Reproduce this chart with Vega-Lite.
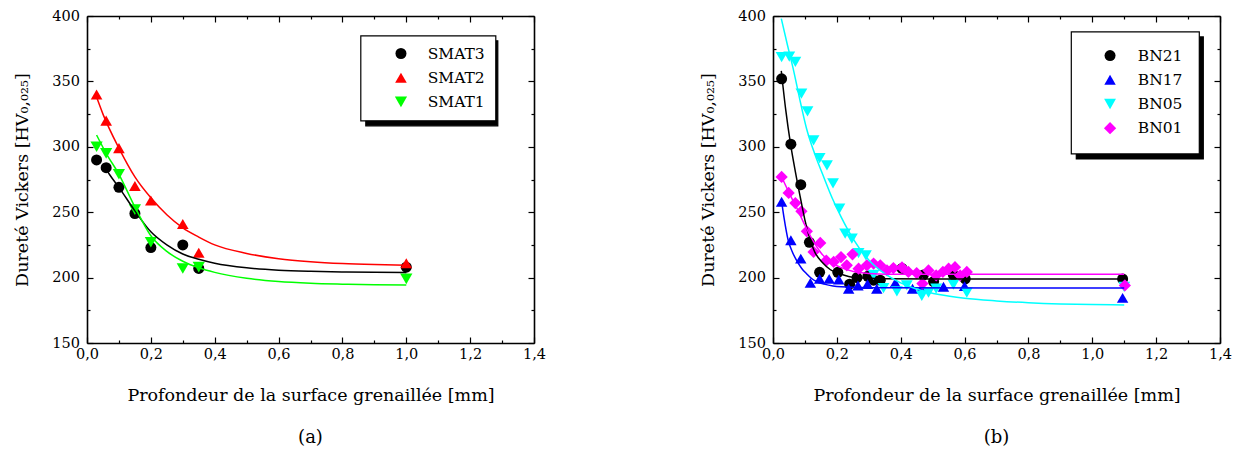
{
  "$schema": "https://vega.github.io/schema/vega-lite/v6.json",
  "background": "white",
  "padding": {"left": 13, "top": 8, "right": 0, "bottom": 0},
  "config": {
    "view": {"stroke": null},
    "font": "DejaVu Serif",
    "axis": {
      "labelFont": "DejaVu Serif", "titleFont": "DejaVu Serif",
      "labelFontSize": 14.5, "titleFontSize": 17.5,
      "labelColor": "black", "titleColor": "black", "titleFontWeight": "normal",
      "domainColor": "black", "domainWidth": 1.6,
      "tickColor": "black", "tickWidth": 1.2, "grid": false,
      "labelFlush": false, "labelOverlap": false
    },
    "legend": {
      "labelFont": "DejaVu Serif", "labelFontSize": 15.5, "labelColor": "black",
      "strokeColor": "black", "fillColor": "white", "strokeWidth": 1.2,
      "symbolSize": 144, "symbolStrokeWidth": 0, "clipHeight": 16, "rowPadding": 7.2
    },
    "title": {"font": "DejaVu Serif", "fontSize": 18, "fontWeight": "normal", "color": "black"}
  },
  "datasets": {
    "pointsA": [
      {"series": "SMAT3", "x": 0.03, "y": 290}, {"series": "SMAT3", "x": 0.06, "y": 284}, {"series": "SMAT3", "x": 0.1, "y": 269}, {"series": "SMAT3", "x": 0.15, "y": 249}, {"series": "SMAT3", "x": 0.2, "y": 223}, {"series": "SMAT3", "x": 0.3, "y": 225}, {"series": "SMAT3", "x": 0.35, "y": 207}, {"series": "SMAT3", "x": 1.0, "y": 208},
      {"series": "SMAT2", "x": 0.03, "y": 340}, {"series": "SMAT2", "x": 0.06, "y": 320}, {"series": "SMAT2", "x": 0.1, "y": 299}, {"series": "SMAT2", "x": 0.15, "y": 270}, {"series": "SMAT2", "x": 0.2, "y": 259}, {"series": "SMAT2", "x": 0.3, "y": 241}, {"series": "SMAT2", "x": 0.35, "y": 219}, {"series": "SMAT2", "x": 1.0, "y": 211},
      {"series": "SMAT1", "x": 0.03, "y": 300}, {"series": "SMAT1", "x": 0.06, "y": 295}, {"series": "SMAT1", "x": 0.1, "y": 279}, {"series": "SMAT1", "x": 0.15, "y": 252}, {"series": "SMAT1", "x": 0.2, "y": 227}, {"series": "SMAT1", "x": 0.3, "y": 207}, {"series": "SMAT1", "x": 0.35, "y": 208}, {"series": "SMAT1", "x": 1.0, "y": 199}
    ],
    "curveA": [
      {"series": "SMAT3", "x": 0.05, "y": 287}, {"series": "SMAT3", "x": 0.07, "y": 279}, {"series": "SMAT3", "x": 0.1, "y": 269}, {"series": "SMAT3", "x": 0.15, "y": 251}, {"series": "SMAT3", "x": 0.2, "y": 235}, {"series": "SMAT3", "x": 0.25, "y": 225}, {"series": "SMAT3", "x": 0.3, "y": 218}, {"series": "SMAT3", "x": 0.35, "y": 214}, {"series": "SMAT3", "x": 0.4, "y": 211}, {"series": "SMAT3", "x": 0.5, "y": 207.5}, {"series": "SMAT3", "x": 0.6, "y": 205.7}, {"series": "SMAT3", "x": 0.7, "y": 204.8}, {"series": "SMAT3", "x": 0.8, "y": 204.3}, {"series": "SMAT3", "x": 0.9, "y": 204}, {"series": "SMAT3", "x": 1.0, "y": 203.8},
      {"series": "SMAT2", "x": 0.03, "y": 338}, {"series": "SMAT2", "x": 0.05, "y": 325}, {"series": "SMAT2", "x": 0.1, "y": 299}, {"series": "SMAT2", "x": 0.15, "y": 277}, {"series": "SMAT2", "x": 0.2, "y": 261}, {"series": "SMAT2", "x": 0.25, "y": 248}, {"series": "SMAT2", "x": 0.3, "y": 238}, {"series": "SMAT2", "x": 0.35, "y": 231}, {"series": "SMAT2", "x": 0.4, "y": 225}, {"series": "SMAT2", "x": 0.5, "y": 218.5}, {"series": "SMAT2", "x": 0.6, "y": 214.5}, {"series": "SMAT2", "x": 0.7, "y": 212.2}, {"series": "SMAT2", "x": 0.8, "y": 210.8}, {"series": "SMAT2", "x": 0.9, "y": 210}, {"series": "SMAT2", "x": 1.0, "y": 209.5},
      {"series": "SMAT1", "x": 0.03, "y": 309}, {"series": "SMAT1", "x": 0.06, "y": 295}, {"series": "SMAT1", "x": 0.1, "y": 279}, {"series": "SMAT1", "x": 0.15, "y": 254}, {"series": "SMAT1", "x": 0.2, "y": 232}, {"series": "SMAT1", "x": 0.25, "y": 220}, {"series": "SMAT1", "x": 0.3, "y": 212.5}, {"series": "SMAT1", "x": 0.35, "y": 207.5}, {"series": "SMAT1", "x": 0.4, "y": 204}, {"series": "SMAT1", "x": 0.5, "y": 199.5}, {"series": "SMAT1", "x": 0.6, "y": 197}, {"series": "SMAT1", "x": 0.7, "y": 195.7}, {"series": "SMAT1", "x": 0.8, "y": 195}, {"series": "SMAT1", "x": 0.9, "y": 194.5}, {"series": "SMAT1", "x": 1.0, "y": 194.3}
    ],
    "pointsB": [
      {"series": "BN21", "x": 0.027, "y": 352}, {"series": "BN21", "x": 0.056, "y": 302}, {"series": "BN21", "x": 0.087, "y": 271}, {"series": "BN21", "x": 0.114, "y": 227}, {"series": "BN21", "x": 0.146, "y": 204}, {"series": "BN21", "x": 0.203, "y": 204}, {"series": "BN21", "x": 0.24, "y": 195}, {"series": "BN21", "x": 0.263, "y": 200}, {"series": "BN21", "x": 0.297, "y": 201}, {"series": "BN21", "x": 0.315, "y": 198}, {"series": "BN21", "x": 0.336, "y": 198}, {"series": "BN21", "x": 0.404, "y": 207}, {"series": "BN21", "x": 0.471, "y": 202}, {"series": "BN21", "x": 0.503, "y": 197}, {"series": "BN21", "x": 0.565, "y": 202}, {"series": "BN21", "x": 0.602, "y": 199}, {"series": "BN21", "x": 1.095, "y": 199},
      {"series": "BN17", "x": 0.027, "y": 258}, {"series": "BN17", "x": 0.056, "y": 228.5}, {"series": "BN17", "x": 0.087, "y": 214.5}, {"series": "BN17", "x": 0.117, "y": 196}, {"series": "BN17", "x": 0.146, "y": 199}, {"series": "BN17", "x": 0.176, "y": 199}, {"series": "BN17", "x": 0.206, "y": 198.6}, {"series": "BN17", "x": 0.237, "y": 191.5}, {"series": "BN17", "x": 0.266, "y": 194}, {"series": "BN17", "x": 0.296, "y": 195}, {"series": "BN17", "x": 0.325, "y": 191.5}, {"series": "BN17", "x": 0.383, "y": 196}, {"series": "BN17", "x": 0.437, "y": 191.5}, {"series": "BN17", "x": 0.466, "y": 192}, {"series": "BN17", "x": 0.534, "y": 193}, {"series": "BN17", "x": 0.6, "y": 193.5}, {"series": "BN17", "x": 1.095, "y": 184.5},
      {"series": "BN05", "x": 0.027, "y": 368.5}, {"series": "BN05", "x": 0.051, "y": 369}, {"series": "BN05", "x": 0.07, "y": 365}, {"series": "BN05", "x": 0.089, "y": 340.6}, {"series": "BN05", "x": 0.108, "y": 327}, {"series": "BN05", "x": 0.127, "y": 305}, {"series": "BN05", "x": 0.146, "y": 291.4}, {"series": "BN05", "x": 0.169, "y": 285.8}, {"series": "BN05", "x": 0.188, "y": 272}, {"series": "BN05", "x": 0.208, "y": 252.7}, {"series": "BN05", "x": 0.226, "y": 233.6}, {"series": "BN05", "x": 0.247, "y": 229.8}, {"series": "BN05", "x": 0.268, "y": 218.8}, {"series": "BN05", "x": 0.291, "y": 217}, {"series": "BN05", "x": 0.315, "y": 202}, {"series": "BN05", "x": 0.346, "y": 192}, {"series": "BN05", "x": 0.388, "y": 189.5}, {"series": "BN05", "x": 0.419, "y": 194}, {"series": "BN05", "x": 0.466, "y": 186}, {"series": "BN05", "x": 0.487, "y": 188.5}, {"series": "BN05", "x": 0.511, "y": 191.5}, {"series": "BN05", "x": 0.565, "y": 194.6}, {"series": "BN05", "x": 0.607, "y": 188.5}, {"series": "BN05", "x": 1.1, "y": 193},
      {"series": "BN01", "x": 0.027, "y": 277}, {"series": "BN01", "x": 0.049, "y": 264.7}, {"series": "BN01", "x": 0.07, "y": 257}, {"series": "BN01", "x": 0.089, "y": 250.7}, {"series": "BN01", "x": 0.106, "y": 235.4}, {"series": "BN01", "x": 0.127, "y": 219.6}, {"series": "BN01", "x": 0.148, "y": 226.5}, {"series": "BN01", "x": 0.167, "y": 213}, {"series": "BN01", "x": 0.19, "y": 212}, {"series": "BN01", "x": 0.213, "y": 215.7}, {"series": "BN01", "x": 0.231, "y": 209.4}, {"series": "BN01", "x": 0.249, "y": 217.8}, {"series": "BN01", "x": 0.268, "y": 206.8}, {"series": "BN01", "x": 0.294, "y": 209.4}, {"series": "BN01", "x": 0.315, "y": 210.7}, {"series": "BN01", "x": 0.336, "y": 209.4}, {"series": "BN01", "x": 0.357, "y": 205.5}, {"series": "BN01", "x": 0.377, "y": 207.3}, {"series": "BN01", "x": 0.404, "y": 207.8}, {"series": "BN01", "x": 0.424, "y": 204.3}, {"series": "BN01", "x": 0.45, "y": 203.5}, {"series": "BN01", "x": 0.468, "y": 195.4}, {"series": "BN01", "x": 0.487, "y": 205.5}, {"series": "BN01", "x": 0.511, "y": 201.7}, {"series": "BN01", "x": 0.532, "y": 204.3}, {"series": "BN01", "x": 0.55, "y": 206.8}, {"series": "BN01", "x": 0.57, "y": 208}, {"series": "BN01", "x": 0.586, "y": 201.7}, {"series": "BN01", "x": 0.607, "y": 204.3}, {"series": "BN01", "x": 1.102, "y": 194}
    ],
    "curveB": [
      {"series": "BN21", "x": 0.026, "y": 358}, {"series": "BN21", "x": 0.04, "y": 328}, {"series": "BN21", "x": 0.055, "y": 302}, {"series": "BN21", "x": 0.07, "y": 281}, {"series": "BN21", "x": 0.085, "y": 262}, {"series": "BN21", "x": 0.1, "y": 244}, {"series": "BN21", "x": 0.115, "y": 230}, {"series": "BN21", "x": 0.13, "y": 220}, {"series": "BN21", "x": 0.157, "y": 211}, {"series": "BN21", "x": 0.18, "y": 206}, {"series": "BN21", "x": 0.209, "y": 203}, {"series": "BN21", "x": 0.26, "y": 200}, {"series": "BN21", "x": 0.35, "y": 199.2}, {"series": "BN21", "x": 0.5, "y": 199}, {"series": "BN21", "x": 1.1, "y": 199},
      {"series": "BN17", "x": 0.026, "y": 260}, {"series": "BN17", "x": 0.035, "y": 245}, {"series": "BN17", "x": 0.047, "y": 229}, {"series": "BN17", "x": 0.06, "y": 220}, {"series": "BN17", "x": 0.073, "y": 213.5}, {"series": "BN17", "x": 0.09, "y": 207}, {"series": "BN17", "x": 0.105, "y": 203}, {"series": "BN17", "x": 0.12, "y": 199.5}, {"series": "BN17", "x": 0.136, "y": 197}, {"series": "BN17", "x": 0.16, "y": 195}, {"series": "BN17", "x": 0.188, "y": 193.6}, {"series": "BN17", "x": 0.25, "y": 192.6}, {"series": "BN17", "x": 0.35, "y": 192.2}, {"series": "BN17", "x": 1.1, "y": 192.1},
      {"series": "BN05", "x": 0.026, "y": 398}, {"series": "BN05", "x": 0.045, "y": 378}, {"series": "BN05", "x": 0.063, "y": 360}, {"series": "BN05", "x": 0.085, "y": 335}, {"series": "BN05", "x": 0.105, "y": 314}, {"series": "BN05", "x": 0.13, "y": 295}, {"series": "BN05", "x": 0.157, "y": 278}, {"series": "BN05", "x": 0.185, "y": 261}, {"series": "BN05", "x": 0.214, "y": 246}, {"series": "BN05", "x": 0.25, "y": 230}, {"series": "BN05", "x": 0.3, "y": 213.5}, {"series": "BN05", "x": 0.35, "y": 203}, {"series": "BN05", "x": 0.4, "y": 196}, {"series": "BN05", "x": 0.46, "y": 190.5}, {"series": "BN05", "x": 0.52, "y": 187}, {"series": "BN05", "x": 0.6, "y": 184.2}, {"series": "BN05", "x": 0.7, "y": 182.2}, {"series": "BN05", "x": 0.8, "y": 180.8}, {"series": "BN05", "x": 0.9, "y": 179.9}, {"series": "BN05", "x": 1.0, "y": 179.4}, {"series": "BN05", "x": 1.1, "y": 179.1},
      {"series": "BN01", "x": 0.027, "y": 277}, {"series": "BN01", "x": 0.05, "y": 265}, {"series": "BN01", "x": 0.075, "y": 253}, {"series": "BN01", "x": 0.1, "y": 240}, {"series": "BN01", "x": 0.127, "y": 227.5}, {"series": "BN01", "x": 0.15, "y": 219}, {"series": "BN01", "x": 0.179, "y": 212}, {"series": "BN01", "x": 0.21, "y": 208}, {"series": "BN01", "x": 0.252, "y": 204.6}, {"series": "BN01", "x": 0.3, "y": 203.1}, {"series": "BN01", "x": 0.357, "y": 202.6}, {"series": "BN01", "x": 1.1, "y": 202.5}
    ]
  },
  "spacing": 153,
  "hconcat": [
    {
      "width": 447, "height": 327,
      "title": {"text": "(a)", "orient": "bottom", "offset": 25},
      "layer": [
        {
          "data": {"name": "pointsA"},
          "mark": {"type": "point", "filled": true, "opacity": 1},
          "encoding": {
            "x": {"field": "x", "type": "quantitative", "scale": {"domain": [0, 1.4], "nice": false, "zero": false},
              "axis": {"orient": "bottom", "values": [0, 0.2, 0.4, 0.6, 0.8, 1.0, 1.2, 1.4],
                "labelExpr": "replace(format(datum.value,'.1f'),'.',',')",
                "tickSize": -6, "labelPadding": 10, "title": "Profondeur de la surface grenaillée [mm]", "titlePadding": 26}},
            "y": {"field": "y", "type": "quantitative", "scale": {"domain": [150, 400], "nice": false, "zero": false},
              "axis": {"orient": "left", "values": [150, 200, 250, 300, 350, 400],
                "tickSize": -6, "labelPadding": 13.5, "title": "Dureté Vickers [HV₀,₀₂₅]", "titlePadding": 20.5}},
            "color": {"field": "series", "type": "nominal",
              "scale": {"domain": ["SMAT3", "SMAT2", "SMAT1"], "range": ["#000000", "#ff0000", "#00ff00"]},
              "legend": {"title": null, "orient": "none", "legendX": 273.5, "legendY": 19.5, "padding": 10, "symbolOffset": 22.7, "labelOffset": 19, "zindex": 2}},
            "shape": {"field": "series", "type": "nominal",
              "scale": {"domain": ["SMAT3", "SMAT2", "SMAT1"], "range": ["circle", "triangle-up", "triangle-down"]},
              "legend": {"title": null, "orient": "none", "legendX": 273.5, "legendY": 19.5, "padding": 10, "symbolOffset": 22.7, "labelOffset": 19, "zindex": 2}},
            "opacity": {"field": "series", "type": "nominal",
              "scale": {"domain": ["SMAT1", "SMAT2", "SMAT3"], "range": [1, 1, 1]},
              "legend": {"title": null, "orient": "none", "legendX": 278.5, "legendY": 24.5, "padding": 10, "symbolOffset": 22.7, "labelOffset": 73.8, "labelExpr": "''", "zindex": 1,
                "fillColor": "black", "strokeColor": "black", "symbolFillColor": "black", "symbolType": "circle"}},
            "size": {"field": "series", "type": "nominal", "scale": {"domain": ["SMAT3", "SMAT2", "SMAT1"], "range": [121, 150, 150]}, "legend": null}
          }
        },
        {
          "data": {"name": "curveA"},
          "mark": {"type": "line", "strokeWidth": 1.5, "interpolate": "monotone"},
          "encoding": {
            "x": {"field": "x", "type": "quantitative", "scale": {"domain": [0, 1.4], "nice": false, "zero": false},
              "axis": {"orient": "top", "values": [0, 0.2, 0.4, 0.6, 0.8, 1.0, 1.2, 1.4], "labels": false, "title": null, "tickSize": -6}},
            "y": {"field": "y", "type": "quantitative", "scale": {"domain": [150, 400], "nice": false, "zero": false},
              "axis": {"orient": "right", "values": [150, 200, 250, 300, 350, 400], "labels": false, "title": null, "tickSize": -6}},
            "stroke": {"field": "series", "type": "nominal",
              "scale": {"domain": ["SMAT3", "SMAT2", "SMAT1"], "range": ["#000000", "#ff0000", "#00ff00"]}, "legend": null}
          }
        },
        {
          "data": {"name": "curveA"},
          "mark": {"type": "line", "opacity": 0},
          "encoding": {
            "x": {"field": "x", "type": "quantitative", "scale": {"domain": [0, 1.4], "nice": false, "zero": false},
              "axis": {"orient": "bottom", "values": [0.1, 0.3, 0.5, 0.7, 0.9, 1.1, 1.3], "labels": false, "domain": false, "title": null, "tickSize": -3}},
            "y": {"field": "y", "type": "quantitative", "scale": {"domain": [150, 400], "nice": false, "zero": false},
              "axis": {"orient": "left", "values": [175, 225, 275, 325, 375], "labels": false, "domain": false, "title": null, "tickSize": -3}},
            "detail": {"field": "series"}
          }
        },
        {
          "data": {"name": "curveA"},
          "mark": {"type": "line", "opacity": 0},
          "encoding": {
            "x": {"field": "x", "type": "quantitative", "scale": {"domain": [0, 1.4], "nice": false, "zero": false},
              "axis": {"orient": "top", "values": [0.1, 0.3, 0.5, 0.7, 0.9, 1.1, 1.3], "labels": false, "domain": false, "title": null, "tickSize": -3}},
            "y": {"field": "y", "type": "quantitative", "scale": {"domain": [150, 400], "nice": false, "zero": false},
              "axis": {"orient": "right", "values": [175, 225, 275, 325, 375], "labels": false, "domain": false, "title": null, "tickSize": -3}},
            "detail": {"field": "series"}
          }
        }
      ],
      "resolve": {"scale": {"x": "independent", "y": "independent"}}
    },
    {
      "width": 447, "height": 327,
      "title": {"text": "(b)", "orient": "bottom", "offset": 25},
      "layer": [
        {
          "data": {"name": "pointsB"},
          "mark": {"type": "point", "filled": true, "opacity": 1},
          "encoding": {
            "x": {"field": "x", "type": "quantitative", "scale": {"domain": [0, 1.4], "nice": false, "zero": false},
              "axis": {"orient": "bottom", "values": [0, 0.2, 0.4, 0.6, 0.8, 1.0, 1.2, 1.4],
                "labelExpr": "replace(format(datum.value,'.1f'),'.',',')",
                "tickSize": -6, "labelPadding": 10, "title": "Profondeur de la surface grenaillée [mm]", "titlePadding": 26}},
            "y": {"field": "y", "type": "quantitative", "scale": {"domain": [150, 400], "nice": false, "zero": false},
              "axis": {"orient": "left", "values": [150, 200, 250, 300, 350, 400],
                "tickSize": -6, "labelPadding": 13.5, "title": "Dureté Vickers [HV₀,₀₂₅]", "titlePadding": 20.5}},
            "color": {"field": "series", "type": "nominal",
              "scale": {"domain": ["BN21", "BN17", "BN05", "BN01"], "range": ["#000000", "#0000ff", "#00ffff", "#ff00ff"]},
              "legend": {"title": null, "orient": "none", "legendX": 298, "legendY": 15.6, "padding": 16, "symbolOffset": 15.3, "labelOffset": 20, "zindex": 2}},
            "shape": {"field": "series", "type": "nominal",
              "scale": {"domain": ["BN21", "BN17", "BN05", "BN01"], "range": ["circle", "triangle-up", "triangle-down", "diamond"]},
              "legend": {"title": null, "orient": "none", "legendX": 298, "legendY": 15.6, "padding": 16, "symbolOffset": 15.3, "labelOffset": 20, "zindex": 2}},
            "opacity": {"field": "series", "type": "nominal",
              "scale": {"domain": ["BN01", "BN05", "BN17", "BN21"], "range": [1, 1, 1, 1]},
              "legend": {"title": null, "orient": "none", "legendX": 303, "legendY": 20.6, "padding": 16, "symbolOffset": 15.3, "labelOffset": 64, "labelExpr": "''", "zindex": 1,
                "fillColor": "black", "strokeColor": "black", "symbolFillColor": "black", "symbolType": "circle"}},
            "size": {"field": "series", "type": "nominal", "scale": {"domain": ["BN21", "BN17", "BN05", "BN01"], "range": [121, 150, 150, 169]}, "legend": null}
          }
        },
        {
          "data": {"name": "curveB"},
          "mark": {"type": "line", "strokeWidth": 1.5, "interpolate": "monotone"},
          "encoding": {
            "x": {"field": "x", "type": "quantitative", "scale": {"domain": [0, 1.4], "nice": false, "zero": false},
              "axis": {"orient": "top", "values": [0, 0.2, 0.4, 0.6, 0.8, 1.0, 1.2, 1.4], "labels": false, "title": null, "tickSize": -6}},
            "y": {"field": "y", "type": "quantitative", "scale": {"domain": [150, 400], "nice": false, "zero": false},
              "axis": {"orient": "right", "values": [150, 200, 250, 300, 350, 400], "labels": false, "title": null, "tickSize": -6}},
            "stroke": {"field": "series", "type": "nominal",
              "scale": {"domain": ["BN21", "BN17", "BN05", "BN01"], "range": ["#000000", "#0000ff", "#00ffff", "#ff00ff"]}, "legend": null}
          }
        },
        {
          "data": {"name": "curveB"},
          "mark": {"type": "line", "opacity": 0},
          "encoding": {
            "x": {"field": "x", "type": "quantitative", "scale": {"domain": [0, 1.4], "nice": false, "zero": false},
              "axis": {"orient": "bottom", "values": [0.1, 0.3, 0.5, 0.7, 0.9, 1.1, 1.3], "labels": false, "domain": false, "title": null, "tickSize": -3}},
            "y": {"field": "y", "type": "quantitative", "scale": {"domain": [150, 400], "nice": false, "zero": false},
              "axis": {"orient": "left", "values": [175, 225, 275, 325, 375], "labels": false, "domain": false, "title": null, "tickSize": -3}},
            "detail": {"field": "series"}
          }
        },
        {
          "data": {"name": "curveB"},
          "mark": {"type": "line", "opacity": 0},
          "encoding": {
            "x": {"field": "x", "type": "quantitative", "scale": {"domain": [0, 1.4], "nice": false, "zero": false},
              "axis": {"orient": "top", "values": [0.1, 0.3, 0.5, 0.7, 0.9, 1.1, 1.3], "labels": false, "domain": false, "title": null, "tickSize": -3}},
            "y": {"field": "y", "type": "quantitative", "scale": {"domain": [150, 400], "nice": false, "zero": false},
              "axis": {"orient": "right", "values": [175, 225, 275, 325, 375], "labels": false, "domain": false, "title": null, "tickSize": -3}},
            "detail": {"field": "series"}
          }
        }
      ],
      "resolve": {"scale": {"x": "independent", "y": "independent"}}
    }
  ],
  "resolve": {"scale": {"color": "independent", "shape": "independent", "size": "independent", "stroke": "independent", "opacity": "independent"}, "legend": {"color": "independent", "shape": "independent", "opacity": "independent"}}
}
